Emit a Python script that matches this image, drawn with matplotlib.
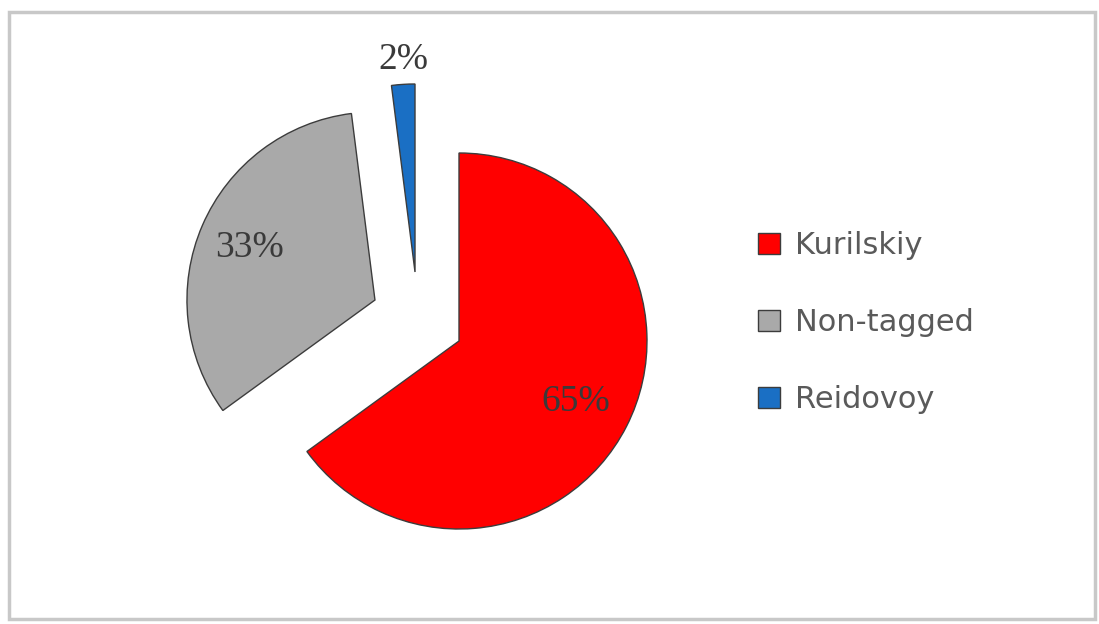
import matplotlib.pyplot as plt
from matplotlib.patches import Rectangle

labels = ["Kurilskiy", "Non-tagged", "Reidovoy"]
shares = [65, 33, 2]
colors = ["#ff0000", "#a9a9a9", "#1a6fc4"]

# wedge centres and label spots (data units, radius = 1)
centers = [(0.0, 0.0), (-0.447, 0.218), (-0.234, 0.367)]
label_pos = [(0.622, -0.324), (-1.112, 0.495), (-0.298, 1.495)]

W, H = 1099, 624
fig = plt.figure(figsize=(W / 100, H / 100), dpi=100)
ax = fig.add_axes([0, 0, 1, 1])

wedges, _, pcts = ax.pie(shares, colors=colors, startangle=90, counterclock=False,
                         autopct='%1.0f%%', radius=1.0,
                         wedgeprops=dict(edgecolor='#3c3c3c', linewidth=1.0),
                         textprops=dict(family='Liberation Serif', fontsize=27, color='#3a3a3a'))
for w, c in zip(wedges, centers):
    w.set_center(c)
for t, p in zip(pcts, label_pos):
    t.set_position(p)
    t.set_ha('center')
    t.set_va('center')

# pixel -> data mapping: centre at (459, 341), 188 px per unit
s = 188.0
ax.set_aspect('auto')
ax.set_xlim(-459 / s, (W - 459) / s)
ax.set_ylim((341 - H) / s, 341 / s)
ax.axis('off')

handles = [Rectangle((0, 0), 1, 1, facecolor=c, edgecolor='#3c3c3c', linewidth=1.0) for c in colors]
leg = fig.legend(handles, labels, loc='upper left', bbox_to_anchor=(746 / W, 1 - 219 / H),
                 frameon=False, handlelength=0.72, handleheight=0.65, handletextpad=0.5,
                 labelspacing=1.57, borderaxespad=0,
                 prop=dict(family='DejaVu Sans', size=22))
for t in leg.get_texts():
    t.set_color('#5a5a5a')

fig.patches.append(Rectangle((9 / W, 1 - 619 / H), (1095 - 9) / W, (619 - 12) / H,
                             transform=fig.transFigure, fill=False,
                             edgecolor='#c8c8c8', linewidth=2.5))

fig.savefig('out.png', dpi=100)
